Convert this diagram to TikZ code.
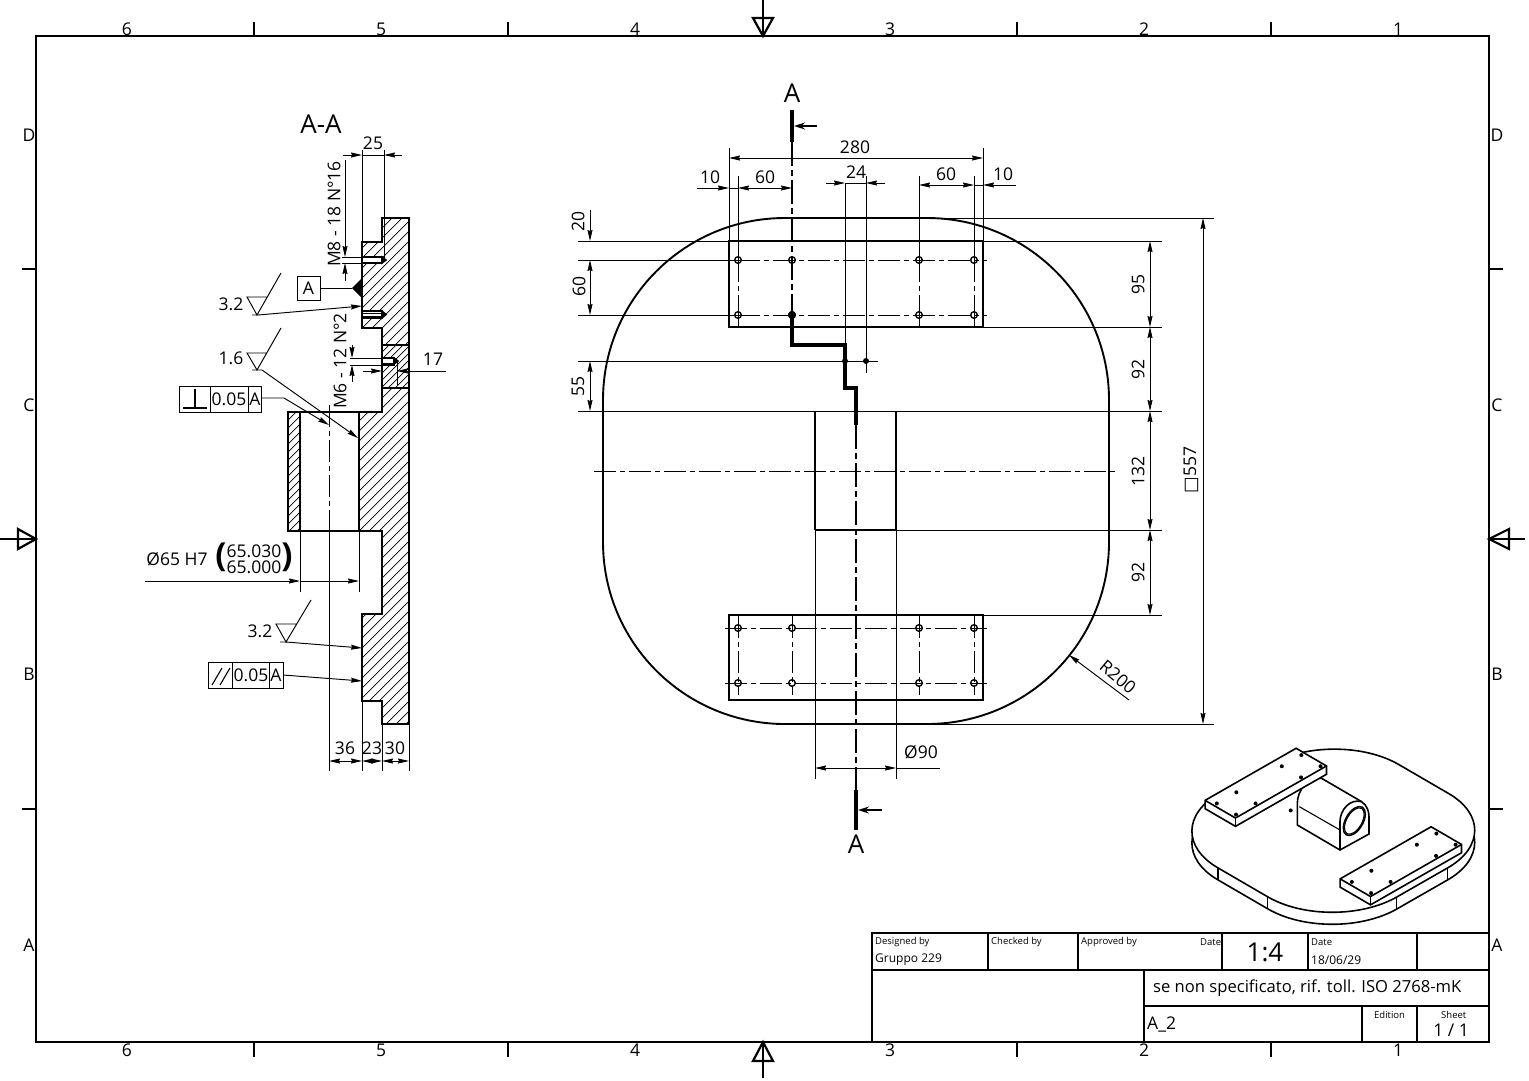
\documentclass[tikz,border=0pt]{standalone}
\usepackage{fontspec}
\setmainfont{Open Sans}
\newfontfamily\dejavu{DejaVu Sans}
\usetikzlibrary{arrows.meta}
\tikzstyle{frameline} = [line width=2.2pt]
\tikzstyle{solid line} = [line width=1.9pt]
\tikzstyle{thinline} = [line width=0.95pt]
\tikzstyle{hatchline} = [line width=0.7pt]
\tikzstyle{axis} = [line width=0.95pt, dash pattern=on 22pt off 4pt on 5pt off 4pt]
\tikzstyle{cutaxis} = [line width=2.2pt, dash pattern=on 24pt off 4pt on 6pt off 4pt]
\tikzstyle{cut} = [line width=4pt, line join=miter]
\tikzstyle{dim} = [line width=0.95pt, -{Stealth[length=11pt,width=5pt,inset=1pt]}]
\tikzstyle{dimboth} = [line width=0.95pt, {Stealth[length=11pt,width=5pt,inset=1pt]}-{Stealth[length=11pt,width=5pt,inset=1pt]}]
\tikzstyle{lab} = [inner sep=0pt, font=\fontsize{17.5}{20}\selectfont]
\tikzstyle{biglab} = [inner sep=0pt, font=\fontsize{26}{28}\selectfont]
\tikzstyle{tiny} = [inner sep=0pt, anchor=west, font=\fontsize{9.5}{12}\selectfont]
\tikzstyle{small} = [inner sep=0pt, anchor=west, font=\fontsize{12}{14}\selectfont]
\tikzstyle{parenlab} = [inner sep=0pt, font=\bfseries\fontsize{33}{36}\selectfont]
\tikzstyle{hole} = [line width=1.5pt, fill=white]
\newcommand{\partoutline}{(382,218) -- (409,218) -- (409,724) -- (382,724) -- (382,701) -- (362,701) -- (362,614) -- (382,614) -- (382,531) -- (359,531) -- (359,412) -- (382,412) -- (382,328) -- (362,328) -- (362,242) -- (382,242) -- cycle}
\newcommand{\wallbox}{(288,412) -- (300,412) -- (300,531) -- (288,531) -- cycle}
\newcommand{\isoplate}{(-78,-278) -- (78,-278) .. controls (188,-278) and (278,-188) .. (278,-78) -- (278,78) .. controls (278,188) and (188,278) .. (78,278) -- (-78,278) .. controls (-188,278) and (-278,188) .. (-278,78) -- (-278,-78) .. controls (-278,-188) and (-188,-278) .. (-78,-278) -- cycle}
\begin{document}
\begin{tikzpicture}[x=1pt, y=-1pt]
\useasboundingbox (0,0) rectangle (1529,1080);

% sheet frame
\draw [frameline] (36,36) rectangle (1489,1042);
\foreach \t in {254,508,1017,1271} {
  \draw [frameline] (\t,22) -- (\t,36);
  \draw [frameline] (\t,1042) -- (\t,1057);
}
\foreach \t in {269,809} {
  \draw [frameline] (22,\t) -- (36,\t);
  \draw [frameline] (1489,\t) -- (1503,\t);
}
\draw [frameline] (763,0) -- (763,36);
\draw [frameline] (753,18) -- (773,18) -- (763,36) -- cycle;
\draw [frameline] (763,1078) -- (763,1042);
\draw [frameline] (753,1061) -- (773,1061) -- (763,1042) -- cycle;
\draw [frameline] (0,539) -- (36,539);
\draw [frameline] (18,529) -- (18,549) -- (36,539) -- cycle;
\draw [frameline] (1525,539) -- (1489,539);
\draw [frameline] (1509,529) -- (1509,549) -- (1489,539) -- cycle;

\foreach \n/\t in {6/127,5/381,4/635,3/890,2/1144,1/1398} {
  \node (top\n) [lab] at (\t,29) {\n};
  \node (bot\n) [lab] at (\t,1050) {\n};
}
\foreach \n/\t in {D/135,C/405,B/674,A/945} {
  \node (left\n) [lab] at (29,\t) {\n};
  \node (right\n) [lab] at (1497,\t) {\n};
}

% title block
\draw [frameline] (872,933) rectangle (1489,1042);
\draw [frameline] (872,970) -- (1489,970);
\draw [frameline] (988,933) -- (988,970);
\draw [frameline] (1078,933) -- (1078,970);
\draw [frameline] (1222,933) -- (1222,970);
\draw [frameline] (1308,933) -- (1308,970);
\draw [frameline] (1417,933) -- (1417,970);
\draw [frameline] (1144,970) -- (1144,1042);
\draw [frameline] (1144,1006) -- (1489,1006);
\draw [frameline] (1362,1006) -- (1362,1042);
\draw [frameline] (1417,1006) -- (1417,1042);
\node (designed) [tiny] at (875,942) {Designed by};
\node (gruppo) [small] at (875,960) {Gruppo 229};
\node (checked) [tiny] at (991,942) {Checked by};
\node (approved) [tiny] at (1081,942) {Approved by};
\node (date1) [tiny] at (1200,942) {Date};
\node (scale) [biglab] at (1265,952) {1:4};
\node (date2) [tiny] at (1311,942) {Date};
\node (dateval) [small] at (1311,960) {18/06/29};
\node (toll) [lab, anchor=west, font=\fontsize{16.6}{20}\selectfont] at (1153,988) {se non specificato, rif. toll. ISO 2768-mK};
\node (sheetname) [lab, anchor=west] at (1147,1024) {A\_2};
\node (edition) [tiny] at (1374,1015) {Edition};
\node (sheet) [tiny] at (1441,1015) {Sheet};
\node (sheetno) [lab] at (1451,1030) {1 / 1};

% section A-A
\begin{scope}
\clip \partoutline;
\foreach \c in {480,490,...,1160} \draw [hatchline] (280,\c-280) -- (420,\c-420);
\end{scope}
\begin{scope}
\clip \wallbox;
\foreach \c in {580,588,...,860} \draw [hatchline] (270,\c-270) -- (320,\c-320);
\end{scope}
\fill [white] (382,345) rectangle (409,388);
\begin{scope}
\clip (382,345) rectangle (409,388);
\foreach \c in {720,727,...,800} \draw [hatchline] (370,\c-370) -- (420,\c-420);
\end{scope}
\draw [solid line] \partoutline;
\draw [solid line] \wallbox;
\draw [solid line] (300,412) -- (359,412);
\draw [solid line] (300,531) -- (359,531);
\draw [line width=1.3pt] (382,345) -- (409,345);
\draw [line width=1.3pt] (382,388) -- (409,388);

% threaded holes
\draw [hole] (362,257) rectangle (382,263);
\draw [hole, fill=black] (382,257) -- (386,260) -- (382,263) -- cycle;
\draw [hole] (362,311) rectangle (382,318);
\draw [thinline] (362,313) -- (382,313);
\draw [thinline] (362,316) -- (382,316);
\draw [hole, fill=black] (382,311) -- (386,314.5) -- (382,318) -- cycle;
\draw [hole] (382,358) rectangle (394,364);
\draw [hole, fill=black] (394,358) -- (398,361) -- (394,364) -- cycle;

% axis of the bore
\draw [axis] (329,405) -- (329,531);
\draw [thinline] (329,531) -- (329,771);

% dimensions of the section
\draw [thinline] (362,150) -- (362,242);
\draw [thinline] (384,150) -- (384,218);
\draw [thinline] (384,218) -- (384,260);
\draw [dim] (343,155) -- (362,155);
\draw [dim] (402,155) -- (384,155);
\draw [thinline] (362,155) -- (384,155);
\node (lab25) [lab] at (373,143) {25};
\draw [thinline] (342,257) -- (375,257);
\draw [thinline] (342,263) -- (375,263);
\draw [dim] (345,160) -- (345,257);
\draw [dim] (345,281) -- (345,263);
\node (labm8) [lab, rotate=90] at (334,214) {M8 - 18 N°16};
\draw [thinline] (350,358) -- (395,358);
\draw [thinline] (350,365) -- (395,365);
\draw [dim] (352,345) -- (352,358);
\draw [dim] (352,382) -- (352,365);
\node (labm6) [lab, rotate=90] at (340,361) {M6 - 12 N°2};
\draw [thinline] (397,360) -- (397,385);
\draw [dim] (363,371) -- (382,371);
\draw [dim] (446,371) -- (397,371);
\node (lab17) [lab] at (433,359) {17};
\draw [thinline] (300,531) -- (300,592);
\draw [thinline] (359,531) -- (359,592);
\draw [dim] (145,581) -- (300,581);
\draw [dim] (320,581) -- (359,581);
\draw [thinline] (300,581) -- (320,581);
\node (labbore) [lab] at (177,559) {Ø65 H7};
\node (labupper) [lab] at (254,551) {65.030};
\node (lablower) [lab] at (254,567) {65.000};
\node (parenl) [parenlab] at (221,557) {(};
\node (parenr) [parenlab] at (287,557) {)};
\draw [thinline] (362,701) -- (362,771);
\draw [thinline] (382,724) -- (382,771);
\draw [thinline] (409,724) -- (409,771);
\draw [dimboth] (329,761) -- (362,761);
\draw [dimboth] (362,761) -- (382,761);
\draw [dimboth] (382,761) -- (409,761);
\node (lab36) [lab] at (345,748) {36};
\node (lab23) [lab] at (372,748) {23};
\node (lab30) [lab] at (395,748) {30};

% datum and surface marks
\node (datum) [lab, draw, line width=1pt, minimum width=23pt, minimum height=24pt] at (308.5,288) {A};
\draw [thinline] (datum.east) -- (352,288);
\fill (352,288) -- (362,278) -- (362,298) -- cycle;
\node (rough1) [lab] at (231,304) {3.2};
\draw [thinline] (281,273) -- (257,315) -- (247,297) -- (267,297);
\draw [dim] (252,315) -- (258,315) -- (362,306);
\node (rough2) [lab] at (231,358) {1.6};
\draw [thinline] (281,328) -- (257,370) -- (247,353) -- (267,353);
\draw [dim] (252,370) -- (262,370) -- (358,438);
\node (rough3) [lab] at (260,631) {3.2};
\draw [thinline] (311,600) -- (286,642) -- (276,624) -- (297,624);
\draw [dim] (280,642) -- (286,642) -- (362,648);

% tolerance frames
\draw [thinline] (179,386) rectangle (261,412);
\draw [thinline] (210,386) -- (210,412);
\draw [thinline] (248,386) -- (248,412);
\draw [line width=1.1pt] (183,408) -- (207,408);
\draw [line width=1.1pt] (195,389) -- (195,408);
\node (perptol) [lab] at (229,399) {0.05};
\node (perpref) [lab] at (255,399) {A};
\draw [dim] (261,398) -- (284,398) -- (329,425);
\draw [thinline] (208,662) rectangle (283,688);
\draw [thinline] (232,662) -- (232,688);
\draw [thinline] (269,662) -- (269,688);
\draw [line width=1.1pt] (212,685) -- (222,668);
\draw [line width=1.1pt] (220,685) -- (230,668);
\node (partol) [lab] at (251,675) {0.05};
\node (parref) [lab] at (276,675) {A};
\draw [dim] (283,675) -- (362,681);
\node (sectitle) [biglab] at (321,124) {A-A};

% plan view
\draw [solid line, rounded corners=182pt] (603,218) rectangle (1109,724);
\draw [solid line] (729,241) rectangle (983,327);
\draw [solid line] (729,615) rectangle (983,700);
\draw [line width=1.2pt] (815,411) -- (815,530);
\draw [line width=1.2pt] (896,411) -- (896,530);
\draw [line width=1.2pt] (815,530) -- (896,530);
\draw [thinline] (815,530) -- (815,779);
\draw [thinline] (896,530) -- (896,779);
\draw [axis] (594,471) -- (1118,471);

% extension lines of the plan view
\draw [thinline] (578,241) -- (729,241);
\draw [thinline] (578,260) -- (738,260);
\draw [thinline] (578,315) -- (738,315);
\draw [thinline] (578,361) -- (878,361);
\draw [thinline] (578,411) -- (1162,411);
\draw [thinline] (927,218) -- (1214,218);
\draw [thinline] (927,724) -- (1214,724);
\draw [thinline] (983,241) -- (1162,241);
\draw [thinline] (983,327) -- (1162,327);
\draw [thinline] (896,530) -- (1162,530);
\draw [thinline] (983,615) -- (1162,615);
\draw [thinline] (729,148) -- (729,241);
\draw [thinline] (983,148) -- (983,241);
\foreach \t in {738,919,974} {
  \draw [thinline] (\t,176) -- (\t,260);
  \draw [axis] (\t,260) -- (\t,315);
  \draw [thinline] (\t,315) -- (\t,327);
}
\draw [thinline] (845,183) -- (845,361);
\draw [thinline] (866,176) -- (866,373);
\draw [axis] (738,260) -- (987,260);
\draw [axis] (738,315) -- (987,315);
\draw [axis] (725,628) -- (987,628);
\draw [axis] (725,683) -- (987,683);
\foreach \t in {738,792,919,974} {
  \draw [axis] (\t,616) -- (\t,695);
}

% holes of the plates
\foreach \t in {738,792,919,974} {
  \foreach \u in {260,315,628,683} {
    \draw [line width=1.4pt] (\t,\u) circle (3.3pt);
  }
}
\fill (845,361) circle (3pt);
\fill (866,361) circle (3pt);

% cutting line
\draw [cut] (792,110) -- (792,142);
\draw [cutaxis] (792,142) -- (792,315);
\fill (792,315) circle (4pt);
\draw [cut] (792,315) -- (792,345) -- (845,345) -- (845,388) -- (856,388) -- (856,425);
\draw [cutaxis] (856,425) -- (856,790);
\draw [cut] (856,790) -- (856,830);
\draw [line width=1.6pt, -{Stealth[length=11pt,width=7pt]}] (817,126) -- (794,126);
\draw [line width=1.6pt, -{Stealth[length=11pt,width=7pt]}] (882,810) -- (858,810);
\node (cuttop) [biglab] at (792,93) {A};
\node (cutbot) [biglab] at (856,844) {A};

% dimensions of the plan view
\draw [dimboth] (729,158) -- (983,158);
\node (lab280) [lab] at (855,147) {280};
\draw [dim] (697,188) -- (729,188);
\draw [thinline] (729,188) -- (738,188);
\draw [dimboth] (738,188) -- (792,188);
\node (lab10a) [lab] at (710,177) {10};
\node (lab60a) [lab] at (765,177) {60};
\draw [dim] (826,183) -- (845,183);
\draw [dim] (885,183) -- (866,183);
\draw [thinline] (845,183) -- (866,183);
\node (lab24) [lab] at (856,172) {24};
\draw [dimboth] (919,185) -- (974,185);
\node (lab60b) [lab] at (946,174) {60};
\draw [dim] (1016,185) -- (983,185);
\draw [thinline] (974,185) -- (983,185);
\node (lab10b) [lab] at (1003,174) {10};
\draw [dim] (590,210) -- (590,241);
\node (lab20) [lab, rotate=90] at (578,221) {20};
\draw [dimboth] (590,260) -- (590,315);
\node (lab60c) [lab, rotate=90] at (579,286) {60};
\draw [dimboth] (590,361) -- (590,411);
\node (lab55) [lab, rotate=90] at (578,386) {55};
\draw [dimboth] (1150,241) -- (1150,327);
\node (lab95) [lab, rotate=90] at (1138,284) {95};
\draw [dimboth] (1150,327) -- (1150,411);
\node (lab92a) [lab, rotate=90] at (1138,369) {92};
\draw [dimboth] (1150,411) -- (1150,530);
\node (lab132) [lab, rotate=90] at (1138,471) {132};
\draw [dimboth] (1150,530) -- (1150,615);
\node (lab92b) [lab, rotate=90] at (1138,572) {92};
\draw [dimboth] (1203,218) -- (1203,724);
\node (lab557) [lab, rotate=90] at (1191,470) {{\dejavu □}557};
\draw [dimboth] (815,768) -- (896,768);
\draw [thinline] (896,768) -- (940,768);
\node (lab90) [lab] at (921,752) {Ø90};
\draw [dim] (1129,700) -- (1069,655);
\node (labr) [lab, rotate=-40] at (1118,677) {R200};

% isometric view
\begin{scope}[shift={(1333.3,830.7)}, x={(0.325pt,0.186pt)}, y={(0.32pt,-0.186pt)}]
\draw [line width=1.6pt, fill=white, yshift=-12pt] \isoplate;
\draw [line width=1.6pt, fill=white] \isoplate;
\draw [line width=1.1pt] (-278,-78) -- ++(0pt,-12pt);
\draw [line width=1.1pt] (-278,78) -- ++(0pt,-12pt);
\draw [line width=1.1pt] (78,278) -- ++(0pt,-12pt);
\draw [line width=1.1pt] (-78,278) -- ++(0pt,-12pt);
\fill (-12,-121) circle (2pt);
\end{scope}
\begin{scope}[shift={(1180,735)}, x=0.3333pt, y=-0.3333pt]
\draw [line width=1.6pt, fill=white] (352,270) -- (352,205) .. controls (352,165) and (385,125) .. (425,130) -- (545,200) .. controls (562,212) and (567,230) .. (567,245) -- (567,297) -- (480,345) -- cycle;
\draw [line width=1.6pt] (480,345) -- (480,260) .. controls (480,225) and (510,190) .. (545,200);
\draw [line width=1.1pt] (358,215) -- (480,285);
\end{scope}
\draw [line width=1.5pt, rotate around={-30:(1354.3,821)}] (1354.3,821) ellipse (8.7pt and 16pt);
\draw [line width=1.1pt, rotate around={-30:(1354.3,821)}] (1354.3,821) ellipse (7.6pt and 14.6pt);
\begin{scope}[shift={(1333.3,830.7)}, x={(0.325pt,0.186pt)}, y={(0.32pt,-0.186pt)}]
\foreach \p in {-258.5,163.5} {
  \draw [line width=1.6pt, fill=white] (-140,\p) -- (-140,\p+95) -- (140,\p+95) -- ([yshift=8.3pt]140,\p+95) -- ([yshift=8.3pt]140,\p) -- ([yshift=8.3pt]-140,\p) -- cycle;
  \draw [line width=1.6pt] ([yshift=8.3pt]-140,\p) -- ([yshift=8.3pt]-140,\p+95) -- ([yshift=8.3pt]140,\p+95);
  \draw [line width=1.1pt] (-140,\p+95) -- ([yshift=8.3pt]-140,\p+95);
  \foreach \q in {-130,-70,70,130} {
    \fill ([yshift=8.3pt]\q,\p+26.5) circle (2pt);
    \fill ([yshift=8.3pt]\q,\p+86.5) circle (2pt);
  }
}
\end{scope}
\end{tikzpicture}
\end{document}
